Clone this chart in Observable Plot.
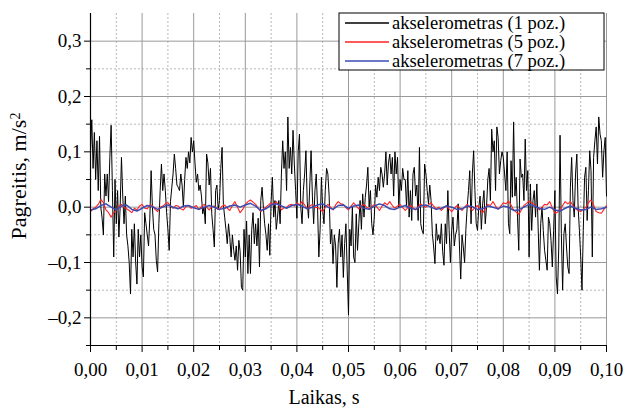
<!DOCTYPE html>
<html>
<head>
<meta charset="utf-8">
<script src="https://cdn.jsdelivr.net/npm/d3@7"></script>
<script src="https://cdn.jsdelivr.net/npm/@observablehq/plot@0.6"></script>
<style>
  html, body { margin: 0; padding: 0; background: #fff; }
  svg { display: block; }
</style>
</head>
<body>
<div id="chart"></div>
<script>
// ---- Data ----
const seriesNames = ["akselerometras (1 poz.)", "akselerometras (5 poz.)", "akselerometras (7 poz.)"];
const xTickValues = [0, 0.01, 0.02, 0.03, 0.04, 0.05, 0.06, 0.07, 0.08, 0.09, 0.1];
const xMinorValues = [0.005, 0.015, 0.025, 0.035, 0.045, 0.055, 0.065, 0.075, 0.085, 0.095];
const yTickValues = [-0.2, -0.1, 0, 0.1, 0.2, 0.3];
const yMinorValues = [-0.25, -0.15, -0.05, 0.05, 0.15, 0.25];

// black series, sampled every 0.00025 s
const blackDt = 0.00025;
const blackA = [0.10, 0.158, 0.07, 0.135, 0.05, 0.12, 0.03, 0.128, 0.0, -0.02, -0.05, 0.06, 0.02, 0.06, 0.01, 0.09, 0.148, 0.03, -0.09, 0.05,
  -0.03, 0.03, -0.054, 0.0, 0.09, 0.02, -0.03, 0.02, -0.05, -0.07, -0.10, -0.157, -0.04, -0.09, -0.03, -0.10, -0.139, -0.04, -0.09, -0.05,
  -0.108, -0.126, -0.01, -0.03, -0.05, -0.07, -0.02, 0.066, 0.0, -0.04, -0.05, -0.096, -0.117, -0.03, 0.03, 0.078, 0.03, 0.06, 0.03, -0.01,
  -0.04, -0.078, 0.01, 0.035, 0.06, 0.096, 0.07, 0.04, 0.036, 0.03, 0.06, 0.04, 0.0, 0.05, 0.09, 0.07, 0.1, 0.08, 0.126, 0.1, 0.12];
const blackB = [0.08, 0.045, 0.06, 0.03, 0.04, 0.02, -0.012, 0.0, -0.03, 0.096, 0.08, 0.04, 0.07, -0.012, -0.04, -0.072, 0.03, 0.04, -0.005, 0.012,
  0.07, 0.108, 0.005, -0.018, -0.04, -0.066, -0.03, -0.055, -0.09, -0.05, -0.078, -0.096, -0.07, -0.114, -0.06, -0.08, -0.145, -0.15, -0.04, -0.09,
  -0.025, -0.12, -0.05, -0.12, -0.04, -0.01, -0.066, -0.03, -0.07, -0.02, -0.108, 0.012, 0.036, 0.0, -0.03, -0.05, -0.078, -0.03, -0.087, 0.01,
  0.054, -0.018, 0.012, -0.04, -0.018, 0.012, -0.03, 0.06, 0.12, 0.07, 0.1, 0.03, 0.163, 0.07, 0.108, 0.06, 0.139, 0.078, 0.03, -0.02, 0.1];
const blackC = [0.132, 0.0, -0.03, 0.03, 0.06, 0.102, 0.01, -0.02, 0.04, 0.102, 0.02, -0.03, 0.03, 0.06, 0.0, -0.09, -0.04, 0.054, -0.005, -0.03,
  0.03, 0.07, 0.06, 0.02, -0.066, -0.04, -0.102, -0.05, -0.07, -0.145, -0.066, -0.04, -0.09, -0.05, -0.127, -0.066, -0.03, -0.115, -0.195, -0.04,
  -0.07, 0.0, -0.09, -0.1, -0.012, -0.078, -0.03, 0.012, -0.04, 0.024, -0.018, 0.018, 0.04, 0.072, 0.0, 0.03, -0.03, -0.05, -0.018, 0.04,
  0.018, 0.054, 0.03, 0.072, 0.06, 0.036, 0.06, 0.1, 0.04, 0.08, 0.096, 0.06, 0.09, 0.02, 0.1, 0.06, 0.09, 0.0, 0.05, 0.03, 0.07];
const blackD = [0.05, 0.05, 0.0, 0.066, -0.018, 0.03, -0.024, 0.06, 0.072, 0.02, 0.04, -0.024, 0.108, -0.03, -0.042, -0.048, 0.078, 0.06, 0.03, 0.006,
  0.04, 0.012, -0.048, -0.072, -0.102, -0.03, -0.06, -0.05, -0.066, -0.03, -0.08, -0.105, -0.03, -0.066, 0.03, -0.04, -0.1, -0.042, -0.018, -0.07,
  -0.05, -0.04, 0.006, -0.07, -0.13, -0.05, -0.072, -0.1, -0.04, 0.0, 0.03, 0.066, -0.03, 0.06, 0.102, 0.03, -0.03, -0.042, 0.0, 0.02,
  -0.04, 0.006, 0.03, -0.03, 0.0, 0.05, 0.07, 0.012, 0.141, 0.1, 0.12, 0.03, 0.145, 0.126, 0.06, 0.084, 0.1];
const blackE = [0.09, 0.06, 0.03, 0.1, -0.03, -0.048, 0.084, 0.018, 0.154, 0.02,
  0.054, -0.018, -0.078, 0.087, 0.054, 0.06, 0.012, 0.123, 0.03, 0.066,
  -0.09, 0.042, -0.042, 0.012, 0.03, -0.018, 0.042, -0.036, -0.114, -0.03,
  0.0, -0.042, -0.078, -0.096, -0.114, -0.018, -0.03, -0.06, -0.108, -0.042,
  0.03, -0.126, -0.157, -0.072, 0.13, -0.048, -0.15, -0.048, -0.03, -0.072,
  -0.108, -0.12, 0.036, 0.09, 0.012, -0.018, 0.06, 0.096, 0.0, -0.042,
  -0.09, -0.15, -0.042, 0.054, 0.072, -0.024, 0.03, 0.102, 0.066, -0.09,
  0.09, 0.12, 0.145, 0.078, 0.163, 0.132, 0.12, 0.054, 0.102, 0.126, 0.02];

// red series, sampled every 0.0005 s
const redDt = 0.0005;
const redValues = [-0.008, -0.003, 0.0, 0.005, 0.014, 0.008, -0.005, -0.01, -0.018, -0.01,
  -0.005, 0.002, 0.005, 0.0, -0.003, -0.006, -0.01, -0.002, -0.005, 0.002,
  0.005, -0.002, -0.003, 0.004, 0.003, -0.004, -0.008, 0.0, 0.002, 0.006,
  0.008, 0.002, -0.002, 0.003, 0.002, -0.003, -0.005, 0.001, 0.003, -0.002,
  0.0, 0.003, -0.004, 0.001, 0.005, 0.0, -0.005, 0.001, 0.002, -0.003,
  -0.004, 0.002, 0.004, -0.002, -0.006, 0.003, 0.01, 0.0, -0.01, -0.004,
  0.005, 0.01, 0.013, 0.009, 0.005, -0.002, -0.008, -0.003, 0.0, 0.004,
  0.008, 0.004, 0.01, 0.003, -0.005, -0.001, 0.0, 0.004, 0.005, 0.002,
  0.008, 0.004, 0.01, 0.004, -0.003, 0.002, 0.005, -0.001, 0.0, -0.004,
  -0.008, 0.0, 0.005, 0.0, -0.005, 0.004, 0.01, 0.006, 0.005, -0.001,
  -0.005, 0.002, 0.008, 0.002, -0.003, 0.002, 0.005, 0.0, -0.003, 0.001,
  0.005, 0.0, -0.006, 0.002, 0.008, 0.004, 0.01, 0.003, -0.002, 0.002,
  0.005, -0.001, -0.006, -0.001, 0.003, -0.001, -0.005, 0.001, 0.006, 0.002,
  0.0, 0.004, 0.008, 0.002, -0.003, 0.0, -0.006, -0.001, 0.003, -0.003,
  -0.008, -0.002, 0.003, -0.001, -0.006, 0.0, 0.005, 0.0, -0.006, -0.001,
  0.003, -0.004, -0.01, -0.003, 0.005, 0.003, 0.01, 0.002, -0.004, 0.002,
  0.008, 0.006, 0.011, 0.004, -0.005, -0.009, -0.013, -0.005, 0.003, 0.007,
  0.011, 0.008, 0.005, 0.0, -0.005, 0.0, 0.005, 0.004, 0.01, -0.001,
  -0.011, -0.009, -0.005, 0.003, 0.01, 0.006, 0.01, 0.003, -0.003, -0.006,
  -0.008, -0.004, 0.0, 0.008, 0.013, 0.004, -0.008, -0.01, -0.011, -0.004,
  0.003];

// blue series, sampled every 0.001 s
const blueDt = 0.001;
const blueValues = [-0.005, -0.003, 0.003, 0.006, 0.0, -0.005, 0.002, 0.004, -0.004, -0.007,
  -0.002, 0.003, 0.001, -0.004, 0.0, 0.004, 0.0, -0.003, 0.002, 0.003,
  -0.001, -0.004, 0.0, 0.003, 0.0, -0.004, -0.002, 0.002, 0.004, 0.0,
  0.004, 0.007, 0.002, -0.006, -0.003, 0.004, 0.006, 0.002, -0.002, 0.003,
  0.005, 0.002, -0.003, 0.0, 0.004, 0.006, 0.0, -0.004, 0.003, 0.004,
  -0.002, 0.002, 0.004, -0.002, -0.004, 0.002, 0.006, 0.003, -0.003, -0.004,
  0.0, 0.003, -0.002, -0.004, 0.002, 0.004, 0.0, -0.004, -0.002, 0.002,
  0.0, -0.004, -0.003, 0.002, 0.001, -0.004, -0.003, 0.002, 0.0, -0.003,
  0.002, 0.0, -0.006, -0.005, 0.0, 0.005, 0.002, -0.002, -0.004, 0.0,
  -0.005, -0.007, -0.002, 0.002, -0.002, -0.005, -0.004, 0.0, -0.004, -0.003,
  0.0];

// ---- Build tables ----
const blackValues = [...blackA, ...blackB, ...blackC, ...blackD, ...blackE];
const blackData = blackValues.map((v, i) => ({t: i * blackDt, v}));
const redData = redValues.map((v, i) => ({t: i * redDt, v}));
const blueData = blueValues.map((v, i) => ({t: i * blueDt, v}));

const colors = ["#000000", "#ff2222", "#3a4cb3"];
const fmtX = d => d.toFixed(2).replace(".", ",");
const fmtY = d => (d < 0 ? "\u2013" : "") + Math.abs(d).toFixed(1).replace(".", ",");

const FONT = "'Liberation Serif', 'Times New Roman', serif";
const W = 623, H = 409;
const chart = Plot.plot({
  width: W, height: H,
  marginLeft: 90, marginRight: 17, marginTop: 13, marginBottom: 64,
  x: {domain: [0, 0.1], label: null},
  y: {domain: [-0.25, 0.35], label: null},
  style: {fontFamily: FONT, fontSize: "19px", background: "#fff", color: "#000"},
  marks: [
    Plot.ruleX(xMinorValues, {stroke: "#b8b8b8", strokeDasharray: "2,2"}),
    Plot.ruleY(yMinorValues.filter(d => d > -0.25), {stroke: "#b8b8b8", strokeDasharray: "2,2"}),
    Plot.ruleX(xTickValues.filter(d => d > 0), {stroke: "#999"}),
    Plot.ruleY(yTickValues, {stroke: "#999"}),
    Plot.line(blackData, {x: "t", y: "v", stroke: colors[0], strokeWidth: 1}),
    Plot.line(redData, {x: "t", y: "v", stroke: colors[1], strokeWidth: 1.1}),
    Plot.line(blueData, {x: "t", y: "v", stroke: colors[2], strokeWidth: 1.5}),
    Plot.ruleX([0], {stroke: "#000", strokeWidth: 1.2}),
    Plot.ruleY([-0.25], {stroke: "#000", strokeWidth: 1.2}),
    Plot.axisX(xTickValues, {tickSize: 7, tickPadding: 10, tickFormat: fmtX, label: null, stroke: "#000"}),
    Plot.axisX(xMinorValues, {tickSize: 5, tickFormat: () => "", label: null, stroke: "#000"}),
    Plot.axisY(yTickValues, {tickSize: 6, tickPadding: 3, tickFormat: fmtY, label: null, stroke: "#000"}),
    Plot.axisY(yMinorValues, {tickSize: 4, tickFormat: () => "", label: null, stroke: "#000"})
  ]
});

document.getElementById("chart").appendChild(chart);

// ---- Axis titles and legend ----
const svg = d3.select(chart);
svg.append("text")
  .attr("x", 324).attr("y", 404)
  .attr("text-anchor", "middle")
  .style("font-family", FONT).style("font-size", "20px").attr("fill", "#000")
  .text("Laikas, s");

const yl = svg.append("text")
  .attr("transform", "translate(26,176) rotate(-90)")
  .attr("text-anchor", "middle")
  .style("font-family", FONT).style("font-size", "22px").attr("fill", "#000");
yl.append("tspan").text("Pagreitis, m/s");
yl.append("tspan").attr("dy", "-0.45em").style("font-size", "14px").text("2");

const lg = svg.append("g").attr("text-anchor", "start");
lg.append("rect").attr("x", 339).attr("y", 13).attr("width", 265).attr("height", 57)
  .attr("fill", "#fff").attr("stroke", "#000").attr("stroke-width", 1);
seriesNames.forEach((name, i) => {
  const cy = 23 + i * 19;
  lg.append("line").attr("x1", 345).attr("x2", 389).attr("y1", cy).attr("y2", cy)
    .attr("stroke", colors[i]).attr("stroke-width", 1.3);
  lg.append("text").attr("x", 392).attr("y", cy + 5.5)
    .attr("text-anchor", "start")
    .style("font-family", FONT).style("font-size", "18.5px").attr("fill", "#000")
    .text(name);
});
</script>
</body>
</html>
